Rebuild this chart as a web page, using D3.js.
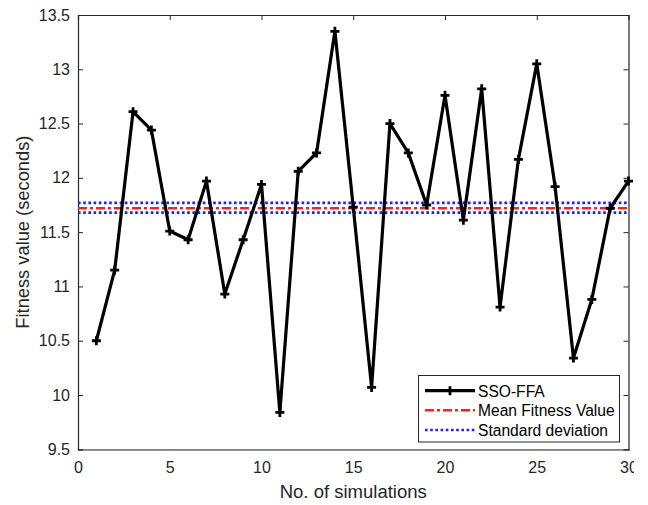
<!DOCTYPE html>
<html><head><meta charset="utf-8">
<script src="https://cdn.jsdelivr.net/npm/d3@7"></script>
<style>
body{margin:0;background:#fff;}
svg{display:block;font-family:"Liberation Sans",Arial,sans-serif;}
</style></head>
<body><svg id="c" width="648" height="505"></svg>
<script>
const simulations = d3.range(1, 31);
const fitness = [10.50, 11.15, 12.61, 12.44, 11.51, 11.43, 11.97, 10.93, 11.43, 11.94,
                 9.84, 12.06, 12.23, 13.35, 11.73, 10.07, 12.50, 12.23, 11.75, 12.76,
                 11.61, 12.82, 10.81, 12.17, 13.05, 11.92, 10.34, 10.88, 11.72, 11.97];
const meanValue = [11.72];
const stdBounds = [11.68, 11.77];
const xTicks = [0, 5, 10, 15, 20, 25, 30];
const yTicks = [9.5, 10, 10.5, 11, 11.5, 12, 12.5, 13, 13.5];
const legendLabels = ["SSO-FFA", "Mean Fitness Value", "Standard deviation"];

const svg = d3.select("#c");
const L = 78, R = 628.5, T = 15, B = 449.3;
const x = d3.scaleLinear().domain([0, 30]).range([L, R]);
const y = d3.scaleLinear().domain([9.5, 13.5]).range([B, T]);
const axisCol = "#262626";

svg.append("clipPath").attr("id","cp").append("rect").attr("x",0).attr("y",0).attr("width",634).attr("height",505);

const gx = svg.append("g").attr("transform", `translate(0,${B})`).attr("clip-path","url(#cp)")
  .call(d3.axisBottom(x).tickValues(xTicks).tickSize(-5).tickPadding(12.5).tickFormat(d3.format("d")));
const gxt = svg.append("g").attr("transform", `translate(0,${T})`)
  .call(d3.axisTop(x).tickValues(xTicks).tickSize(-5).tickFormat(""));
const gy = svg.append("g").attr("transform", `translate(${L},0)`)
  .call(d3.axisLeft(y).tickValues(yTicks).tickSize(-5).tickPadding(8).tickFormat(d => d3.format("")(d)));
const gyr = svg.append("g").attr("transform", `translate(${R},0)`)
  .call(d3.axisRight(y).tickValues(yTicks).tickSize(-5).tickFormat(""));
[gx,gxt,gy,gyr].forEach(g=>{
  g.selectAll("path").attr("stroke",axisCol).attr("stroke-width",1.2);
  g.selectAll("line").attr("stroke",axisCol).attr("stroke-width",1);
  g.selectAll("text").attr("fill",axisCol).attr("font-size",16).attr("font-family","Liberation Sans, Arial, sans-serif");
});
gx.selectAll(".tick line").filter(d=>d===0||d===30).remove();
gxt.selectAll(".tick line").filter(d=>d===0||d===30).remove();
gy.selectAll(".tick line").filter(d=>d===9.5||d===13.5).remove();
gyr.selectAll(".tick line").filter(d=>d===9.5||d===13.5).remove();

// reference lines
svg.append("g").selectAll("line").data(stdBounds).join("line")
  .attr("x1", L).attr("x2", R).attr("y1", d=>y(d)).attr("y2", d=>y(d))
  .attr("stroke","#2020ff").attr("stroke-width",2.6).attr("stroke-dasharray","2.6,2.6");
svg.append("g").selectAll("line").data(meanValue).join("line")
  .attr("x1", L).attr("x2", R).attr("y1", d=>y(d)).attr("y2", d=>y(d))
  .attr("stroke","#ff2020").attr("stroke-width",2.6).attr("stroke-dasharray","9,3,3,3");

// main series
const pts = simulations.map((s,i)=>[s, fitness[i]]);
svg.append("path").datum(pts)
  .attr("d", d3.line().x(d=>x(d[0])).y(d=>y(d[1])))
  .attr("fill","none").attr("stroke","#000").attr("stroke-width",3.2).attr("stroke-linejoin","round");
const plus = "M-4.5,0H4.5M0,-4.5V4.5";
svg.append("g").selectAll("path").data(pts).join("path")
  .attr("transform", d=>`translate(${x(d[0])},${y(d[1])})`)
  .attr("d", plus).attr("stroke","#000").attr("stroke-width",2.8).attr("fill","none");

// axis titles
svg.append("text").attr("x", (L+R)/2).attr("y", 498).attr("text-anchor","middle")
  .attr("font-size",18.5).attr("fill",axisCol).text("No. of simulations");
svg.append("text").attr("transform", `translate(29,${(T+B)/2}) rotate(-90)`).attr("text-anchor","middle")
  .attr("font-size",18.3).attr("fill",axisCol).text("Fitness value (seconds)");

// legend
const lg = svg.append("g");
lg.append("rect").attr("x",418.5).attr("y",375.5).attr("width",201).attr("height",66.5)
  .attr("fill","#fff").attr("stroke",axisCol).attr("stroke-width",1);
const rows = [390.7, 410.3, 430];
const lx1 = 425, lx2 = 475;
lg.append("line").attr("x1",lx1).attr("x2",lx2).attr("y1",rows[0]).attr("y2",rows[0])
  .attr("stroke","#000").attr("stroke-width",3.2);
lg.append("path").attr("transform",`translate(${(lx1+lx2)/2},${rows[0]})`).attr("d",plus)
  .attr("stroke","#000").attr("stroke-width",2.8);
lg.append("line").attr("x1",lx1).attr("x2",lx2).attr("y1",rows[1]).attr("y2",rows[1])
  .attr("stroke","#ff2020").attr("stroke-width",2.6).attr("stroke-dasharray","9,3,3,3");
lg.append("line").attr("x1",lx1).attr("x2",lx2).attr("y1",rows[2]).attr("y2",rows[2])
  .attr("stroke","#2020ff").attr("stroke-width",2.6).attr("stroke-dasharray","2.6,2.6");
lg.selectAll("text.l").data(legendLabels).join("text").attr("class","l")
  .attr("x",478).attr("y",(d,i)=>rows[i]+5.8).attr("font-size",15.6).attr("fill","#000").text(d=>d);
</script></body></html>
